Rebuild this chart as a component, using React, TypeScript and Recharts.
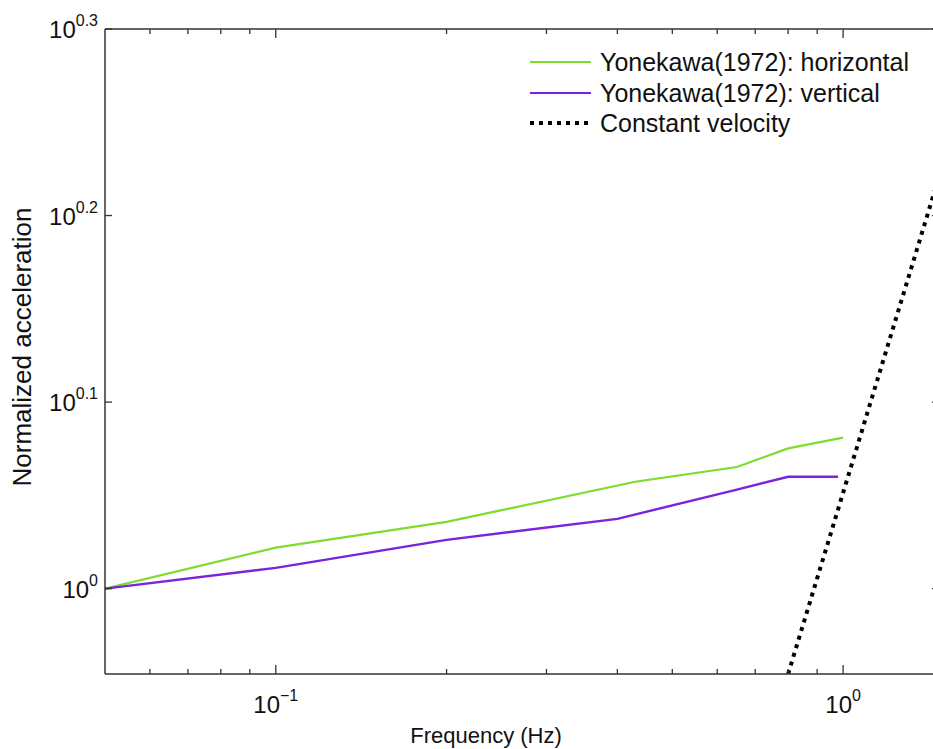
import React from 'react';
import { LineChart, Line, XAxis, YAxis, Legend } from 'recharts';

// values (log-log axes)
const horizFreq = [0.05, 0.1, 0.2, 0.43, 0.65, 0.8, 1.0];
const horizAccel = [1.0, 1.052, 1.086, 1.141, 1.162, 1.189, 1.205];
const vertFreq = [0.05, 0.1, 0.2, 0.4, 0.65, 0.8, 0.98];
const vertAccel = [1.0, 1.026, 1.062, 1.09, 1.13, 1.148, 1.148];
const constVelFreq = [0.8, 1.5];
const constVelAccel = [0.9, 1.69];

const seriesNames = ['Yonekawa(1972): horizontal', 'Yonekawa(1972): vertical', 'Constant velocity'];
const seriesColors = ['#7ddc2e', '#7a22dc', '#000000'];

const xMajorTicks = [0.1, 1];
const xMajorLabels = ['\u22121', '0'];
const xMinorTicks = [0.06, 0.07, 0.08, 0.09, 0.2, 0.3, 0.4, 0.5, 0.6, 0.7, 0.8, 0.9];
const yExponents = [0, 0.1, 0.2, 0.3];
const yTicks = yExponents.map((e) => Math.pow(10, e));

const toRows = (fs: number[], as: number[]) => fs.map((f, i) => ({ f, a: as[i] }));
const horizData = toRows(horizFreq, horizAccel);
const vertData = toRows(vertFreq, vertAccel);
const constVelData = toRows(constVelFreq, constVelAccel);

const FONT = '"Liberation Sans", Arial, Helvetica, sans-serif';
const AXIS = '#333';
const X_DOMAIN = [0.05, 1.5];
const Y_DOMAIN = [0.9, Math.pow(10, 0.3)];
const X_TICKS = [...xMinorTicks, ...xMajorTicks].sort((a, b) => a - b);

const isMajorX = (v: number) => xMajorTicks.some((m) => Math.abs(m - v) < 1e-9);

const BottomTick = (props: any) => {
  const { x, y, payload } = props;
  const idx = xMajorTicks.findIndex((m) => Math.abs(m - payload.value) < 1e-9);
  const major = idx >= 0;
  return (
    <g>
      <line x1={x} x2={x} y1={y} y2={y - (major ? 9 : 5)} stroke={AXIS} strokeWidth={1.3} />
      {major && (
        <text x={x} y={y + 39} textAnchor="middle" fontFamily={FONT} fontSize={24} fill="#111">
          10<tspan dy={-12} fontSize={16}>{xMajorLabels[idx]}</tspan>
        </text>
      )}
    </g>
  );
};

const TopTick = (props: any) => {
  const { x, y, payload } = props;
  const major = isMajorX(payload.value);
  return <line x1={x} x2={x} y1={y} y2={y + (major ? 9 : 5)} stroke={AXIS} strokeWidth={1.3} />;
};

const LeftTick = (props: any) => {
  const { x, y, payload } = props;
  const exp = Math.round(Math.log10(payload.value) * 10) / 10;
  return (
    <g>
      <line x1={x} x2={x + 7} y1={y} y2={y} stroke={AXIS} strokeWidth={1.3} />
      <text x={x - 7} y={y + 9} textAnchor="end" fontFamily={FONT} fontSize={24} fill="#111">
        10<tspan dy={-12} fontSize={16}>{String(exp)}</tspan>
      </text>
    </g>
  );
};

const RightTick = (props: any) => {
  const { x, y } = props;
  return <line x1={x} x2={x - 11} y1={y} y2={y} stroke={AXIS} strokeWidth={1.3} />;
};

const LegendBox = () => (
  <div style={{ fontFamily: FONT, fontSize: 25, color: '#111', lineHeight: '30.5px' }}>
    {seriesNames.map((name, i) => (
      <div key={name} style={{ display: 'flex', alignItems: 'center', whiteSpace: 'nowrap' }}>
        <svg width={72} height={30} style={{ flex: 'none' }}>
          <line
            x1={2}
            x2={63}
            y1={15}
            y2={15}
            stroke={seriesColors[i]}
            strokeWidth={i === 2 ? 4 : 2}
            strokeDasharray={i === 2 ? '4 5' : undefined}
          />
        </svg>
        <span>{name}</span>
      </div>
    ))}
  </div>
);

export default function App() {
  return (
    <div style={{ position: 'absolute', left: 0, top: 0, width: 933, height: 749, overflow: 'hidden', background: '#fff' }}>
      <LineChart width={1000} height={749} margin={{ top: 0, right: 0, bottom: 0, left: 0 }}>
        <XAxis
          xAxisId="bottom"
          dataKey="f"
          type="number"
          scale="log"
          domain={X_DOMAIN}
          allowDataOverflow
          ticks={X_TICKS}
          interval={0}
          height={75}
          tickSize={0}
          tickMargin={0}
          tickLine={false}
          tick={<BottomTick />}
          axisLine={{ stroke: AXIS, strokeWidth: 1.5 }}
          label={() => (
            <text x={486} y={743} textAnchor="middle" fontFamily={FONT} fontSize={22} fill="#111">
              Frequency (Hz)
            </text>
          )}
        />
        <XAxis
          xAxisId="top"
          orientation="top"
          dataKey="f"
          type="number"
          scale="log"
          domain={X_DOMAIN}
          allowDataOverflow
          ticks={X_TICKS}
          interval={0}
          height={29}
          tickSize={0}
          tickMargin={0}
          tickLine={false}
          tick={<TopTick />}
          axisLine={{ stroke: AXIS, strokeWidth: 1.5 }}
        />
        <YAxis
          yAxisId="left"
          type="number"
          scale="log"
          domain={Y_DOMAIN}
          allowDataOverflow
          ticks={yTicks}
          interval={0}
          width={105}
          tickSize={0}
          tickMargin={0}
          tickLine={false}
          tick={<LeftTick />}
          axisLine={{ stroke: AXIS, strokeWidth: 1.5 }}
          label={() => (
            <text
              x={22}
              y={347}
              transform="rotate(-90, 22, 347)"
              textAnchor="middle"
              dominantBaseline="central"
              fontFamily={FONT}
              fontSize={26}
              fill="#111"
            >
              Normalized acceleration
            </text>
          )}
        />
        <YAxis
          yAxisId="right"
          orientation="right"
          type="number"
          scale="log"
          domain={Y_DOMAIN}
          allowDataOverflow
          ticks={yTicks}
          interval={0}
          width={57}
          tickSize={0}
          tickMargin={0}
          tickLine={false}
          tick={<RightTick />}
          axisLine={{ stroke: AXIS, strokeWidth: 1.5 }}
        />
        <Legend
          layout="vertical"
          verticalAlign="middle"
          align="center"
          content={<LegendBox />}
          wrapperStyle={{ position: 'absolute', left: 528, top: 47, width: 405 }}
        />
        <Line
          xAxisId="bottom"
          yAxisId="left"
          data={horizData}
          dataKey="a"
          name={seriesNames[0]}
          type="linear"
          stroke={seriesColors[0]}
          strokeWidth={2.2}
          dot={false}
          isAnimationActive={false}
        />
        <Line
          xAxisId="bottom"
          yAxisId="left"
          data={vertData}
          dataKey="a"
          name={seriesNames[1]}
          type="linear"
          stroke={seriesColors[1]}
          strokeWidth={2.4}
          dot={false}
          isAnimationActive={false}
        />
        <Line
          xAxisId="bottom"
          yAxisId="left"
          data={constVelData}
          dataKey="a"
          name={seriesNames[2]}
          type="linear"
          stroke={seriesColors[2]}
          strokeWidth={4}
          strokeDasharray="4 5"
          dot={false}
          isAnimationActive={false}
        />
      </LineChart>
    </div>
  );
}
